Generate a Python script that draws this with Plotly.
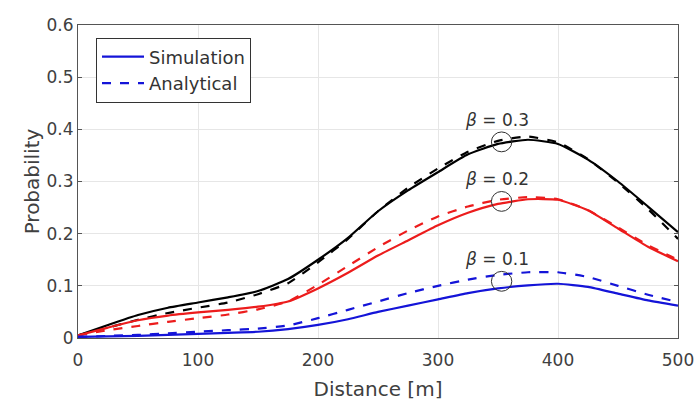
import numpy as np
import plotly.graph_objects as go

distance = [0, 25, 50, 75, 100, 125, 150, 175, 200, 225, 250, 275, 300, 325, 350, 375, 400, 425, 450, 475, 500]

sim_b03 = [0.005, 0.025, 0.044, 0.058, 0.068, 0.078, 0.090, 0.113, 0.150, 0.192, 0.243, 0.283, 0.318, 0.352, 0.372, 0.380, 0.372, 0.342, 0.300, 0.252, 0.203]
ana_b03 = [0.005, 0.020, 0.035, 0.048, 0.058, 0.068, 0.084, 0.105, 0.145, 0.190, 0.243, 0.288, 0.325, 0.357, 0.378, 0.386, 0.375, 0.343, 0.298, 0.247, 0.190]
sim_b02 = [0.005, 0.020, 0.034, 0.043, 0.049, 0.054, 0.060, 0.070, 0.095, 0.125, 0.158, 0.187, 0.216, 0.240, 0.257, 0.266, 0.265, 0.245, 0.210, 0.175, 0.147]
ana_b02 = [0.005, 0.015, 0.023, 0.031, 0.038, 0.045, 0.055, 0.070, 0.102, 0.138, 0.174, 0.206, 0.233, 0.252, 0.265, 0.270, 0.266, 0.245, 0.212, 0.178, 0.150]
sim_b01 = [0.002, 0.003, 0.004, 0.006, 0.008, 0.010, 0.012, 0.017, 0.025, 0.036, 0.050, 0.062, 0.074, 0.086, 0.095, 0.101, 0.104, 0.098, 0.085, 0.072, 0.062]
ana_b01 = [0.002, 0.004, 0.006, 0.009, 0.012, 0.015, 0.018, 0.024, 0.038, 0.054, 0.070, 0.086, 0.100, 0.112, 0.121, 0.126, 0.126, 0.117, 0.100, 0.083, 0.069]

beta_labels = ["<i>β</i> = 0.3", "<i>β</i> = 0.2", "<i>β</i> = 0.1"]
marker_distance = 353

x_ticks = [0, 100, 200, 300, 400, 500]
y_ticks = [0, 0.1, 0.2, 0.3, 0.4, 0.5, 0.6]

BLUE = "#1414d8"
RED = "#ec1c1c"
BLACK = "#000000"
FONT = "DejaVu Sans, Arial, sans-serif"

fig = go.Figure()

series = [
    (sim_b03, ana_b03, BLACK),
    (sim_b02, ana_b02, RED),
    (sim_b01, ana_b01, BLUE),
]
for sim, ana, col in series:
    fig.add_trace(go.Scatter(x=distance, y=sim, mode="lines", showlegend=False,
                             line=dict(color=col, width=2.2, shape="spline", smoothing=0.5)))
    fig.add_trace(go.Scatter(x=distance, y=ana, mode="lines", showlegend=False,
                             line=dict(color=col, width=2.2, dash="dash", shape="spline", smoothing=0.5)))

# legend entries
fig.add_trace(go.Scatter(x=[None], y=[None], mode="lines", name="Simulation",
                         line=dict(color=BLUE, width=2.2)))
fig.add_trace(go.Scatter(x=[None], y=[None], mode="lines", name="Analytical",
                         line=dict(color=BLUE, width=2.2, dash="dash")))

# circles and beta labels
for (sim, ana, col), lab in zip(series, beta_labels):
    yc = 0.5 * (np.interp(marker_distance, distance, sim) + np.interp(marker_distance, distance, ana))
    fig.add_shape(type="circle", xref="x", yref="y",
                  x0=marker_distance - 8.5, x1=marker_distance + 8.5,
                  y0=yc - 0.019, y1=yc + 0.019,
                  line=dict(color="#303030", width=1))
    fig.add_annotation(x=marker_distance, y=yc, text=lab, showarrow=False,
                       yshift=22, xshift=-5, font=dict(family=FONT, size=17, color="#333333"))

axis_common = dict(showline=True, linecolor="#555555", linewidth=1,
                   showgrid=True, gridcolor="#e6e6e6", gridwidth=1, zeroline=False,
                   automargin=False,
                   tickfont=dict(family=FONT, size=17, color="#404040"))

fig.update_layout(
    width=696, height=401,
    margin=dict(l=78, r=18, t=25, b=63),
    paper_bgcolor="white", plot_bgcolor="white",
    font=dict(family=FONT),
    xaxis=dict(range=[0, 500], tickvals=x_ticks, ticktext=[str(v) for v in x_ticks],
               ticks="outside", ticklen=7, tickcolor="white", mirror=True,
               title=dict(text="Distance [m]", font=dict(family=FONT, size=20, color="#404040"), standoff=12),
               **axis_common),
    yaxis=dict(range=[0, 0.6], tickvals=y_ticks, ticktext=["0", "0.1", "0.2", "0.3", "0.4", "0.5", "0.6"],
               ticks="inside", ticklen=4, tickcolor="#555555", mirror="ticks",
               title=dict(text="Probability", font=dict(family=FONT, size=20, color="#404040"), standoff=1),
               **axis_common),
    legend=dict(x=0.03, y=0.96, xanchor="left", yanchor="top",
                bgcolor="white", bordercolor="#333333", borderwidth=1,
                font=dict(family=FONT, size=18, color="#333333"),
                tracegroupgap=0, itemwidth=42),
)

fig.write_html("out.html")
